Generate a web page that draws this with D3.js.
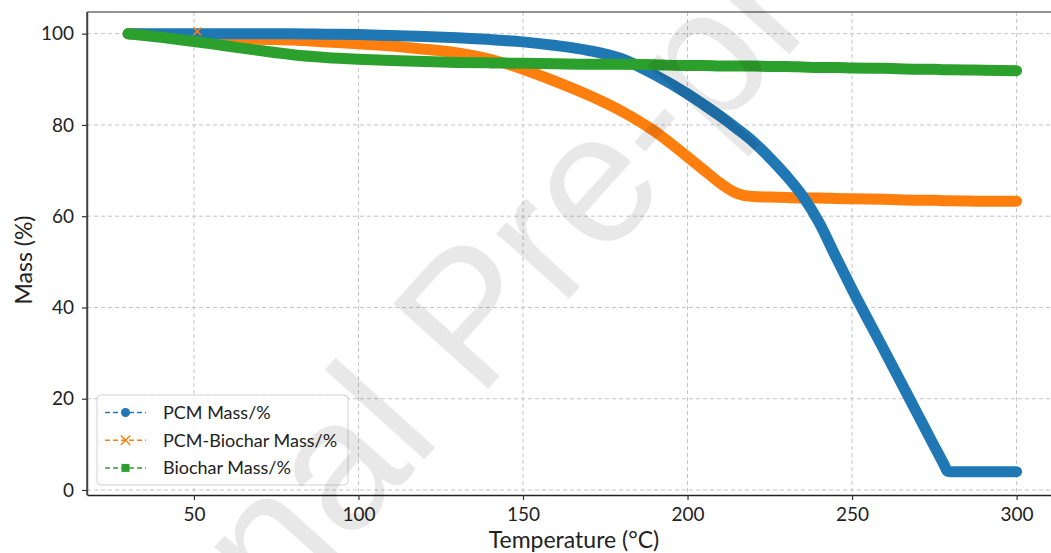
<!DOCTYPE html>
<html><head><meta charset="utf-8">
<script src="https://cdn.jsdelivr.net/npm/d3@7"></script>
<style>body{margin:0;background:#fff} svg{display:block}</style>
</head><body><svg id="c" width="1051" height="553"></svg>
<script>
// ---- data ----
const temps      = [30,40,50,60,70,80,90,100,110,120,130,140,150,160,170,180,190,200,205,210,215,220,225,230,235,240,245,250,260,270,275,278,279,280,290,300];
const pcm        = [100,100,100,100,100,100,99.9,99.8,99.6,99.4,99.1,98.7,98.2,97.4,96.3,94.5,91.0,86.8,84.4,81.9,79.2,76.3,72.8,68.9,64.4,58.6,51.2,44.0,30.3,16.5,9.6,5.5,4.1,4.0,4.0,4.0];
const pcmBiochar = [100,99.7,99.4,99.1,98.8,98.6,98.2,97.8,97.3,96.6,95.8,94.4,92.2,89.5,86.5,83.0,78.6,73.0,70.1,67.2,65.0,64.3,64.2,64.1,64.0,64.0,63.9,63.8,63.7,63.5,63.5,63.4,63.4,63.4,63.3,63.3];
const biochar    = [100,99.2,98.3,97.3,96.3,95.4,94.8,94.4,94.1,93.9,93.7,93.6,93.5,93.4,93.3,93.3,93.2,93.0,93.0,92.9,92.9,92.9,92.8,92.8,92.7,92.6,92.6,92.5,92.4,92.2,92.2,92.1,92.1,92.1,92.0,91.9];
const seriesNames  = ["PCM Mass/%","PCM-Biochar Mass/%","Biochar Mass/%"];
const seriesColors = ["#1f77b4","#ff7f0e","#2ca02c"];
const seriesMarkers = ["circle","x","square"];
const xTicks = [50,100,150,200,250,300];
const yTicks = [0,20,40,60,80,100];
const xLabel = "Temperature (°C)";
const yLabel = "Mass (%)";
const watermark = "Journal Pre-proof";

// ---- layout ----
const svg = d3.select("#c");
const L = 87, R = 1061, T = 12, B = 495;
const x = d3.scaleLinear().domain([17.5, 313.5]).range([L, R]);
const y = d3.scaleLinear().domain([-1.1, 104.75]).range([B, T]);
const font = "Lato, 'Open Sans', sans-serif";

// grid
const grid = svg.append("g").attr("stroke","#c4c4c4").attr("stroke-width",1).attr("stroke-dasharray","4,3");
xTicks.forEach(t => grid.append("line").attr("x1",x(t)).attr("x2",x(t)).attr("y1",T).attr("y2",B));
yTicks.forEach(t => grid.append("line").attr("x1",L).attr("x2",R).attr("y1",y(t)).attr("y2",y(t)));

// series lines (drawn order: orange, blue, green)
const series = [pcm, pcmBiochar, biochar];
const line = d3.line().x(d => x(d[0])).y(d => y(d[1])).curve(d3.curveMonotoneX);
[1,0,2].forEach(i => {
  const pts = temps.map((t,k) => [t, series[i][k]]);
  svg.append("path").attr("d", line(pts)).attr("fill","none")
    .attr("stroke", seriesColors[i]).attr("stroke-width", 11)
    .attr("stroke-linejoin","round").attr("stroke-linecap","round");
});
// small x marker peeking at orange start region
svg.append("path")
  .attr("d", d3.symbol(d3.symbolX, 40)())
  .attr("transform", `translate(${x(51)},${y(100.5)})`)
  .attr("stroke", seriesColors[1]).attr("stroke-width",1.5).attr("fill","none");

// spines
svg.append("line").attr("x1",L).attr("x2",R).attr("y1",T).attr("y2",T).attr("stroke","#6e6e6e").attr("stroke-width",1.5);
svg.append("line").attr("x1",L).attr("x2",L).attr("y1",T).attr("y2",B).attr("stroke","#444").attr("stroke-width",1.5);

// axes
const xAxis = svg.append("g").attr("transform",`translate(0,${B})`)
  .call(d3.axisBottom(x).tickValues(xTicks).tickSize(5).tickPadding(8).tickSizeOuter(0));
const yAxis = svg.append("g").attr("transform",`translate(${L},0)`)
  .call(d3.axisLeft(y).tickValues(yTicks).tickSize(5).tickPadding(8).tickSizeOuter(0));
[xAxis, yAxis].forEach(g => {
  g.selectAll("text").attr("font-family", font).attr("font-size", 19).attr("fill","#222");
  g.selectAll("line").attr("stroke","#333").attr("stroke-width",1.2);
});
xAxis.select(".domain").attr("stroke","#222").attr("stroke-width",1.5);
yAxis.select(".domain").attr("stroke","#444").attr("stroke-width",1.5);

// axis labels
svg.append("text").attr("x", 574).attr("y", 548).attr("text-anchor","middle")
  .attr("font-family", font).attr("font-size", 23).attr("fill","#222").text(xLabel);
svg.append("text").attr("transform","translate(32,260) rotate(-90)").attr("text-anchor","middle")
  .attr("font-family", font).attr("font-size", 23).attr("fill","#222").text(yLabel);

// legend
const lg = svg.append("g");
lg.append("rect").attr("x",97).attr("y",395).attr("width",251).attr("height",90).attr("rx",4)
  .attr("fill","#fff").attr("fill-opacity",0.85).attr("stroke","#d0d0d0").attr("stroke-width",1);
seriesNames.forEach((name, i) => {
  const cy = 412.5 + i * 27.7;
  lg.append("line").attr("x1",105).attr("x2",146).attr("y1",cy).attr("y2",cy)
    .attr("stroke", seriesColors[i]).attr("stroke-width",1.5).attr("stroke-dasharray","5,3");
  let sym;
  if (seriesMarkers[i] === "circle") sym = lg.append("circle").attr("r",4.5).attr("fill",seriesColors[i]);
  else if (seriesMarkers[i] === "square") sym = lg.append("rect").attr("x",-4).attr("y",-4).attr("width",8).attr("height",8).attr("fill",seriesColors[i]);
  else sym = lg.append("path").attr("d", d3.symbol(d3.symbolX, 60)()).attr("stroke",seriesColors[i]).attr("stroke-width",1.5).attr("fill","none");
  sym.attr("transform", `translate(125.5,${cy})`);
  lg.append("text").attr("x",163).attr("y",cy).attr("dy","0.35em")
    .attr("font-family", font).attr("font-size",18).attr("fill","#222").text(name);
});

// watermark
const ang = -48, fs = 185;
const wm = svg.append("text").attr("font-family","'Liberation Sans', Arial, sans-serif")
  .attr("font-size", fs).attr("fill","#000").attr("fill-opacity",0.09).text(watermark);
const pre = wm.node().getSubStringLength(0, watermark.indexOf("P"));
const px = 478, py = 400, rad = ang * Math.PI / 180;
const ox = px - pre * Math.cos(rad), oy = py - pre * Math.sin(rad);
wm.attr("transform", `translate(${ox},${oy}) rotate(${ang})`);
</script></body></html>
